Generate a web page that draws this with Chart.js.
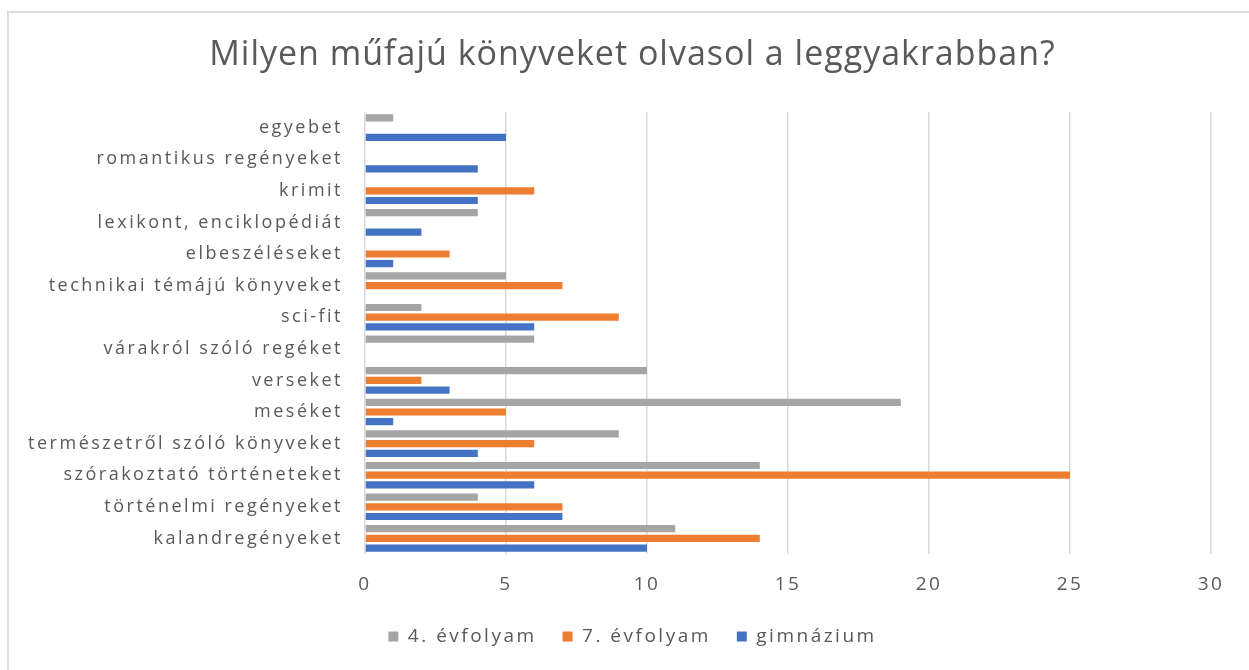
<!DOCTYPE html>
<html lang="hu">
<head>
    <meta charset="UTF-8">
    <title>Milyen műfajú könyveket olvasol a leggyakrabban?</title>
    <script src="https://cdn.jsdelivr.net/npm/chart.js"></script>
    <style>
        body { margin: 0; background: #fff; }
        #frame { position: absolute; left: 7px; top: 11px; width: 1300px; height: 700px; border: 2px solid #dcdcdc; box-sizing: border-box; }
        #wrap { position: absolute; left: 0; top: 0; width: 1249px; height: 670px; }
    </style>
</head>
<body>
    <div id="frame"></div>
    <div id="wrap"><canvas id="chart"></canvas></div>

    <script>
        // kategóriák fentről lefelé
        const kategoriak = [
            'egyebet',
            'romantikus regényeket',
            'krimit',
            'lexikont, enciklopédiát',
            'elbeszéléseket',
            'technikai témájú könyveket',
            'sci-fit',
            'várakról szóló regéket',
            'verseket',
            'meséket',
            'természetről szóló könyveket',
            'szórakoztató történeteket',
            'történelmi regényeket',
            'kalandregényeket'
        ];
        const evfolyam4 = [1, 0, 0, 4, 0, 5, 2, 6, 10, 19, 9, 14, 4, 11];
        const evfolyam7 = [0, 0, 6, 0, 3, 7, 9, 0, 2, 5, 6, 25, 7, 14];
        const gimnazium = [5, 4, 4, 2, 1, 0, 6, 0, 3, 1, 4, 6, 7, 10];
        const xTicks = [0, 5, 10, 15, 20, 25, 30];

        const szoveg = '#595959';

        // a cím és a jelmagyarázat rajzolását kicsit eltoljuk, a címnél kisebb betűközzel
        function eltol(doboz, ctx, dx, dy, koz) {
            if (!doboz || doboz._eltolva) return;
            const eredeti = doboz.draw;
            doboz.draw = function () {
                ctx.save();
                ctx.translate(dx, dy);
                if (koz) ctx.letterSpacing = koz;
                eredeti.apply(this, arguments);
                ctx.restore();
            };
            doboz._eltolva = true;
        }

        const betukoz = {
            id: 'betukoz',
            beforeLayout(chart) { chart.ctx.letterSpacing = '2.5px'; },
            afterLayout(chart) {
                eltol(chart.titleBlock, chart.ctx, 22, 0, '1px');
                eltol(chart.legend, chart.ctx, 22, -14, null);
            },
            beforeDraw(chart) { chart.ctx.letterSpacing = '2.5px'; }
        };

        new Chart(document.getElementById('chart'), {
            type: 'bar',
            data: {
                labels: kategoriak,
                datasets: [
                    { label: '4. évfolyam', data: evfolyam4, backgroundColor: '#a5a5a5' },
                    { label: '7. évfolyam', data: evfolyam7, backgroundColor: '#ed7d31' },
                    { label: 'gimnázium', data: gimnazium, backgroundColor: '#4472c4' }
                ]
            },
            options: {
                indexAxis: 'y',
                responsive: true,
                maintainAspectRatio: false,
                animation: false,
                categoryPercentage: 0.92,
                barPercentage: 0.74,
                layout: { padding: { top: 18, left: 10, right: 38, bottom: 0 } },
                scales: {
                    x: {
                        min: 0,
                        max: 30,
                        afterBuildTicks(scale) { scale.ticks = xTicks.map(v => ({ value: v })); },
                        grid: { color: '#d9d9d9', lineWidth: 1.5, drawTicks: false },
                        border: { display: false },
                        ticks: { color: szoveg, padding: 19, font: { family: 'Open Sans', size: 19 } }
                    },
                    y: {
                        grid: { display: false, drawTicks: false },
                        border: { display: false },
                        afterFit(scale) { scale.width = 355; },
                        ticks: { color: szoveg, padding: 22, autoSkip: false, font: { family: 'Open Sans', size: 18 } }
                    }
                },
                plugins: {
                    title: {
                        display: true,
                        text: 'Milyen műfajú könyveket olvasol a leggyakrabban?',
                        color: szoveg,
                        font: { family: 'Open Sans', size: 34, weight: 'normal' },
                        padding: { top: 17, bottom: 36 }
                    },
                    legend: {
                        position: 'bottom',
                        labels: {
                            color: szoveg,
                            boxWidth: 10,
                            boxHeight: 10,
                            padding: 26,
                            font: { family: 'Open Sans', size: 19 }
                        }
                    },
                    tooltip: { enabled: false }
                }
            },
            plugins: [betukoz]
        });
    </script>
</body>
</html>
